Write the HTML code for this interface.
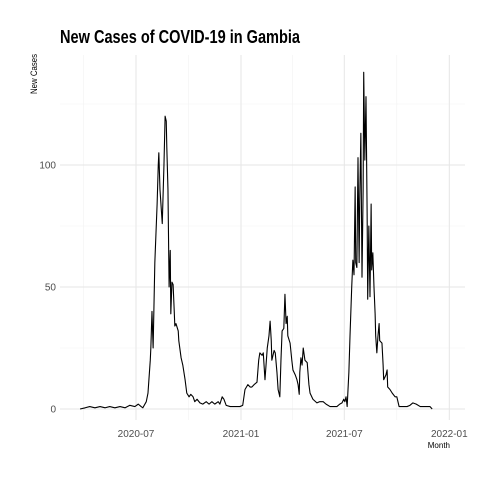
<!DOCTYPE html>
<html><head><meta charset="utf-8"><style>
html,body{margin:0;padding:0;background:#fff;}
svg{display:block;font-family:"Liberation Sans",sans-serif;}
</style></head><body>
<svg id="chart" width="480" height="480" viewBox="0 0 480 480">
<text x="60" y="43" font-size="18" font-weight="bold" fill="#000" textLength="240" lengthAdjust="spacingAndGlyphs">New Cases of COVID-19 in Gambia</text>
<text transform="translate(37,94) rotate(-90)" font-size="9" fill="#000" textLength="40" lengthAdjust="spacingAndGlyphs">New Cases</text>
<text x="450" y="448" font-size="8" fill="#000" text-anchor="end">Month</text>
<g id="grid"></g>
<g id="yticks"></g>
<g id="xticks"></g>
<path id="line" fill="none" stroke="#000" stroke-width="1.1" stroke-linejoin="round"/>
</svg>
<script>
// days since 2020-07-01
const days = [-98,-89,-81,-72,-63,-54,-46,-37,-28,-19,-11,-2,4,9,12,18,21,25,26,28,30,33,37,39,40,42,46,49,51,53,54,56,58,60,61,63,65,67,68,70,74,75,79,82,86,89,93,96,100,103,107,112,117,123,128,133,138,144,147,151,154,158,165,173,182,187,191,196,200,203,207,212,215,217,221,223,226,230,233,235,237,238,242,244,247,249,252,254,256,259,261,263,265,266,270,273,275,279,282,284,286,287,289,291,293,296,300,303,305,310,317,322,328,333,340,347,352,357,361,364,366,368,370,373,375,378,380,382,384,385,387,389,391,392,394,396,398,399,401,403,405,406,408,410,412,413,415,417,419,420,422,424,426,427,431,433,434,438,440,441,445,449,454,457,461,468,475,480,485,491,498,506,515,519];
const cases = [0,0.5,1,0.5,1,0.5,1,0.5,1,0.5,1.5,1,2,1,0.5,3,6.5,20,25,40,25,60,84,100,105,90,76,100,120,118,107,90,50,65,39,52,51,40,34,35,32,28,21,18,12,6.5,5,6,5,3,4,2.5,2,3,2,3,2,3,2,5,4,1.5,1,1,1,1.5,8,10,9,9,10,11,20,23,22,23,12,25,30,36,28,20,24,23,15,8,5,20,32,33,47,35,38,30,27,20,16,14,12,10,6,15,21,18,25,20,19,10,6.5,4,2.5,3,3,2,1,1,1,2,2.5,4,3,5,1,15,30,50,61,55,91,60,58,103,60,85,113,54,90,138,102,128,80,45,75,46,84,57,64,50,39,30,23,30,35,28,27,18,12,14,16,9,8,6.5,5,5,1,1,1,1.5,2.5,2,1,1,1,0];
const xTickDays = [0,184,365,549];
const xTickLabels = ["2020-07","2021-01","2021-07","2022-01"];
const xMinorDays = [-92,92,274,457];
const yTicks = [0,50,100];
const yMinor = [25,75,125];

const NS="http://www.w3.org/2000/svg";
const X0=60,X1=465,Y0=55,Y1=420;
const xs=d=>136+d*0.5707;
const ys=v=>409-v*2.44;
const grid=document.getElementById('grid');
function ln(x1,y1,x2,y2,c,w,name){const l=document.createElementNS(NS,'line');
l.setAttribute('x1',x1);l.setAttribute('y1',y1);l.setAttribute('x2',x2);l.setAttribute('y2',y2);
l.setAttribute('stroke',c);l.setAttribute('stroke-width',w);


grid.appendChild(l);}
yMinor.forEach(v=>ln(X0,ys(v),X1,ys(v),'#f2f2f2',0.6,'y-minor-gridline'));
xMinorDays.forEach(d=>ln(xs(d),Y0,xs(d),Y1,'#f2f2f2',0.6,'x-minor-gridline'));
yTicks.forEach(v=>ln(X0,ys(v),X1,ys(v),'#e6e6e6',1,'y-major-gridline'));
xTickDays.forEach(d=>ln(xs(d),Y0,xs(d),Y1,'#e6e6e6',1,'x-major-gridline'));
const yt=document.getElementById('yticks');
yTicks.forEach(v=>{const t=document.createElementNS(NS,'text');
t.setAttribute('x',56);t.setAttribute('y',ys(v)+3.5);t.setAttribute('text-anchor','end');
t.setAttribute('font-size','10');t.setAttribute('fill','#4d4d4d');t.textContent=v;


yt.appendChild(t);});
const xt=document.getElementById('xticks');
xTickDays.forEach((d,i)=>{const t=document.createElementNS(NS,'text');
t.setAttribute('x',xs(d));t.setAttribute('y',437);t.setAttribute('text-anchor','middle');
t.setAttribute('font-size','10');t.setAttribute('fill','#4d4d4d');t.textContent=xTickLabels[i];


xt.appendChild(t);});
document.getElementById('line').setAttribute('d',days.map((d,i)=>(i?'L':'M')+xs(d).toFixed(2)+','+ys(cases[i]).toFixed(2)).join(''));
</script>
</body></html>
